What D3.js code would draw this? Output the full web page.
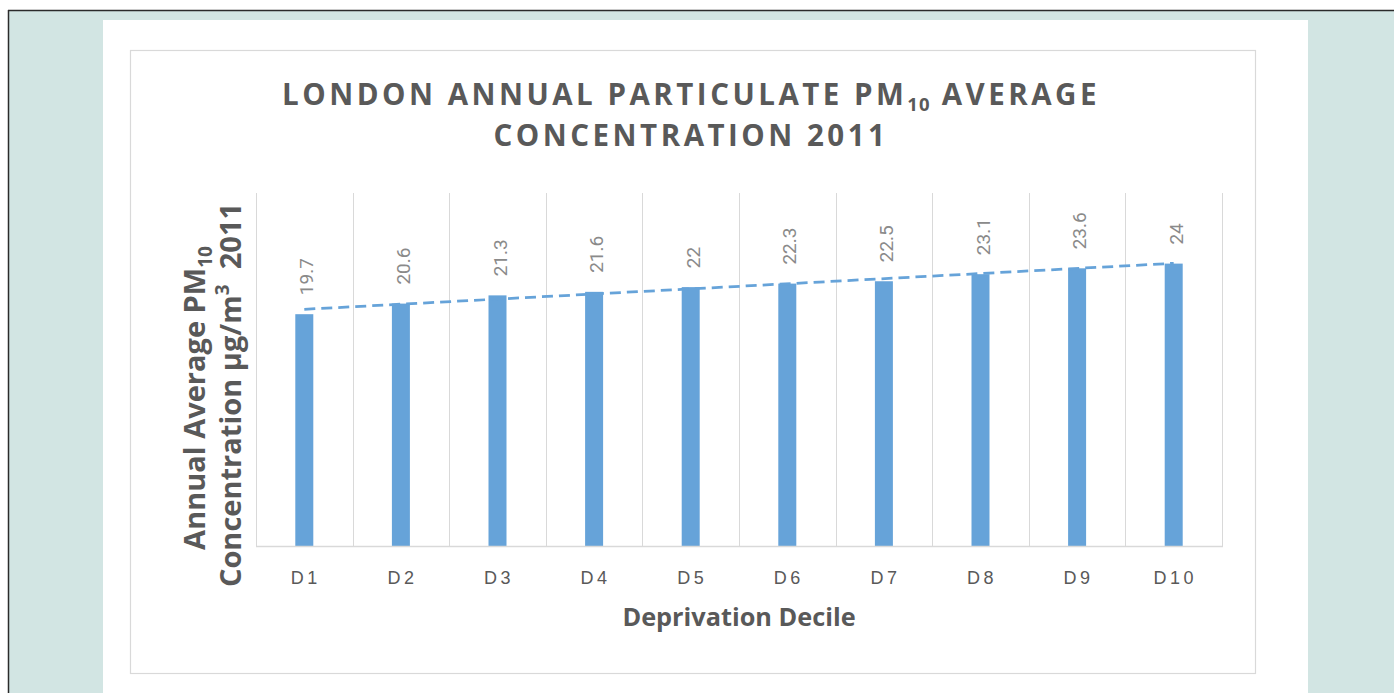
<!DOCTYPE html>
<html><head><meta charset="utf-8">
<script src="https://cdn.jsdelivr.net/npm/d3@7"></script>
<style>
html,body{margin:0;padding:0;background:#fff;}
svg{display:block;}
</style></head>
<body>
<script>
const categories = ["D1","D2","D3","D4","D5","D6","D7","D8","D9","D10"];
const values = [19.7, 20.6, 21.3, 21.6, 22, 22.3, 22.5, 23.1, 23.6, 24];
const valueLabels = ["19.7","20.6","21.3","21.6","22","22.3","22.5","23.1","23.6","24"];
const yDomain = [0, 30];

const W = 1394, H = 693;
const svg = d3.select("body").append("svg").attr("width", W).attr("height", H);

// backgrounds
svg.append("rect").attr("x",0).attr("y",0).attr("width",W).attr("height",H).attr("fill","#fff");
svg.append("rect").attr("x",8).attr("y",10).attr("width",W-8).attr("height",H-10).attr("fill","#d2e5e3");
svg.append("line").attr("x1",8.5).attr("x2",8.5).attr("y1",10).attr("y2",H).attr("stroke","#2b2b2b").attr("stroke-width",1.5);
svg.append("line").attr("x1",8).attr("x2",W).attr("y1",10.5).attr("y2",10.5).attr("stroke","#2b2b2b").attr("stroke-width",1.5);
svg.append("rect").attr("x",103).attr("y",20).attr("width",1205).attr("height",H-20).attr("fill","#fff");
svg.append("rect").attr("x",130.5).attr("y",50.5).attr("width",1125).attr("height",623).attr("fill","#fff").attr("stroke","#d9d9d9").attr("stroke-width",1.2);

const plot = {left:256, right:1222, top:193, bottom:546};
const x = d3.scaleBand().domain(categories).range([plot.left, plot.right]).paddingInner(0).paddingOuter(0);
const y = d3.scaleLinear().domain(yDomain).range([plot.bottom, plot.top]);

const g = svg.append("g");
// vertical gridlines at band boundaries
const bounds = categories.map(c => x(c)).concat([x(categories[categories.length-1]) + x.bandwidth()]);
g.selectAll("line.grid").data(bounds).join("line")
  .attr("x1", d => Math.round(d)+0.5).attr("x2", d => Math.round(d)+0.5)
  .attr("y1", plot.top).attr("y2", plot.bottom)
  .attr("stroke", "#d9d9d9").attr("stroke-width", 1);

// bars
const barW = 18;
g.selectAll("rect.bar").data(values).join("rect")
  .attr("x", (d,i) => x(categories[i]) + x.bandwidth()/2 - barW/2)
  .attr("y", d => y(d)).attr("width", barW).attr("height", d => y(0) - y(d))
  .attr("fill", "#66a3d9");

// x axis baseline
g.append("line").attr("x1", plot.left).attr("x2", plot.right+1).attr("y1", plot.bottom+0.5).attr("y2", plot.bottom+0.5)
  .attr("stroke","#d9d9d9").attr("stroke-width",1.5);

// linear trendline (least squares)
const xs = values.map((d,i)=>i+1);
const mx = d3.mean(xs), my = d3.mean(values);
const slope = d3.sum(xs.map((v,i)=>(v-mx)*(values[i]-my))) / d3.sum(xs.map(v=>(v-mx)*(v-mx)));
const icpt = my - slope*mx;
const cx = i => x(categories[i]) + x.bandwidth()/2;
g.append("line")
  .attr("x1", cx(0)).attr("y1", y(icpt + slope*1))
  .attr("x2", cx(categories.length-1)).attr("y2", y(icpt + slope*categories.length))
  .attr("stroke", "#66a3d9").attr("stroke-width", 2.75).attr("stroke-dasharray", "11,6");

// data labels
g.selectAll("text.lbl").data(values).join("text")
  .attr("transform", (d,i) => `translate(${cx(i)+9},${y(d)-19}) rotate(-90)`)
  .attr("text-anchor","start")
  .attr("font-family","Roboto, 'Liberation Sans', sans-serif").attr("font-size",19)
  .attr("fill","#8a8a8a")
  .text((d,i) => valueLabels[i]);

// x tick labels
g.selectAll("text.xt").data(categories).join("text")
  .attr("x", (d,i) => cx(i)+1.5).attr("y", 584)
  .attr("text-anchor","middle")
  .attr("font-family","'Liberation Sans', Arial, sans-serif").attr("font-size",18)
  .attr("letter-spacing","3.5px")
  .attr("fill","#595959")
  .text(d => d);

// x title
svg.append("text").attr("x", 739).attr("y", 626).attr("text-anchor","middle")
  .attr("font-family","'Open Sans', sans-serif").attr("font-weight","bold").attr("font-size",25.3)
  .attr("fill","#595959").text("Deprivation Decile");

// title
const title = svg.append("g").attr("font-family","'Open Sans', sans-serif").attr("font-weight","bold")
  .attr("font-size",29.5).attr("fill","#595959").attr("letter-spacing","3.5px").attr("text-anchor","middle");
const t1 = title.append("text").attr("x", 691).attr("y", 105);
t1.append("tspan").text("LONDON ANNUAL PARTICULATE PM");
t1.append("tspan").attr("font-size",18.5).attr("dy",6).attr("letter-spacing","1px").text("10");
t1.append("tspan").attr("dy",-6).text(" AVERAGE");
title.append("text").attr("x", 691).attr("y", 146).text("CONCENTRATION 2011");

// y title
const yt = svg.append("g").attr("font-family","'Open Sans', sans-serif").attr("font-weight","bold")
  .attr("font-size",29).attr("fill","#595959").attr("text-anchor","middle");
const yl1 = yt.append("text").attr("transform","translate(205,398) rotate(-90)");
yl1.append("tspan").text("Annual Average PM");
yl1.append("tspan").attr("font-size",19).attr("dy",7).text("10");
const yl2 = yt.append("text").attr("transform","translate(241,395) rotate(-90)").style("white-space","pre");
yl2.append("tspan").text("Concentration µg/m");
yl2.append("tspan").attr("font-size",19).attr("dy",-12).text("3");
yl2.append("tspan").attr("dy",12).text("  2011");
</script>
</body></html>
